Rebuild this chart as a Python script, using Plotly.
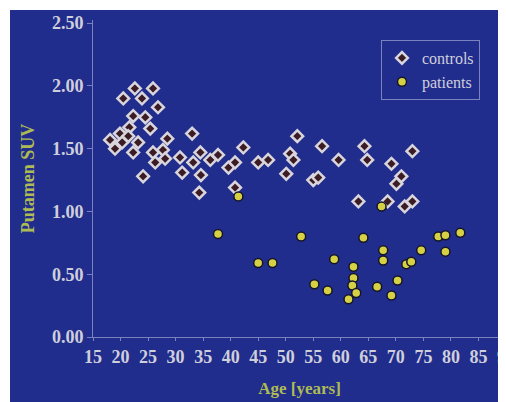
import plotly.graph_objects as go

# Controls (age, putamen SUV)
controls_age = [22.6, 25.9, 20.5, 23.9, 26.8, 22.3, 24.5, 21.6, 25.4, 33.0, 19.9, 21.4, 18.1,
                28.5, 23.2, 20.3, 19.0, 22.3, 25.9, 27.7, 30.8, 26.3, 28.1, 33.2, 34.5, 24.1,
                31.2, 34.6, 34.3, 36.3, 37.7, 39.6, 40.8, 42.3, 45.0, 46.8, 50.8, 51.4, 52.1,
                56.6, 40.8, 50.1, 55.0, 55.9, 59.6, 64.3, 64.8, 69.2, 71.0, 70.1, 73.0, 63.2,
                68.5, 71.6, 73.0]
controls_suv = [1.98, 1.98, 1.90, 1.90, 1.83, 1.76, 1.75, 1.67, 1.66, 1.62, 1.62, 1.60, 1.57,
                1.58, 1.55, 1.55, 1.50, 1.47, 1.47, 1.49, 1.43, 1.39, 1.42, 1.39, 1.47, 1.28,
                1.31, 1.29, 1.15, 1.41, 1.45, 1.35, 1.39, 1.51, 1.39, 1.41, 1.46, 1.41, 1.60,
                1.52, 1.19, 1.30, 1.25, 1.27, 1.41, 1.52, 1.41, 1.38, 1.28, 1.22, 1.48, 1.08,
                1.08, 1.04, 1.08]

# Patients (age, putamen SUV)
patients_age = [37.7, 41.4, 45.0, 47.6, 52.8, 55.2, 57.6, 58.8, 62.3, 62.3, 62.1, 62.8, 61.4,
                64.1, 67.7, 67.7, 66.6, 69.2, 70.3, 71.9, 72.8, 74.6, 77.7, 79.0, 79.0, 81.7,
                67.4]
patients_suv = [0.82, 1.12, 0.59, 0.59, 0.80, 0.42, 0.37, 0.62, 0.56, 0.47, 0.41, 0.35, 0.30,
                0.79, 0.69, 0.61, 0.40, 0.33, 0.45, 0.58, 0.60, 0.69, 0.80, 0.81, 0.68, 0.83,
                1.04]

x_ticks = list(range(15, 95, 5))
y_ticks = [0.0, 0.5, 1.0, 1.5, 2.0, 2.5]

BLUE = "#212d8c"
AXIS = "#7c82bd"
TEXT = "#cfcfdc"
TITLE = "#aebb55"
SERIF = "Liberation Serif, Times New Roman, serif"

fig = go.Figure()
fig.add_trace(go.Scatter(
    x=controls_age, y=controls_suv, mode="markers", name="controls",
    marker=dict(symbol="diamond", size=9, color="#3b1c24",
                line=dict(color="#d9d5dd", width=2.5)),
))
fig.add_trace(go.Scatter(
    x=patients_age, y=patients_suv, mode="markers", name="patients",
    marker=dict(symbol="circle", size=9, color="#d6d144",
                line=dict(color="#15152a", width=1.5)),
))

# The page body adds an 8px offset; figure coordinates below are page - 8.
OFF = 8
W, H = 506 - OFF, 402 - OFF
L, R, T, B = 93 - OFF, 0, 20 - OFF, 402 - 337
pw, ph = W - L - R, H - T - B

def px_x(p):  # page pixel -> paper x
    return (p - OFF - L) / pw

def px_y(p):  # page pixel -> paper y
    return (H - B - (p - OFF)) / ph

fig.add_shape(type="rect", xref="paper", yref="paper",
              x0=px_x(10), x1=px_x(520), y0=px_y(10), y1=px_y(420),
              fillcolor=BLUE, line=dict(width=0), layer="below")

fig.update_layout(
    template="none",
    width=W, height=H,
    margin=dict(l=L, r=R, t=T, b=B, pad=0),
    paper_bgcolor="white",
    plot_bgcolor=BLUE,
    font=dict(family=SERIF, color=TEXT, size=17),
    showlegend=True,
    legend=dict(
        x=px_x(480), y=px_y(40), xanchor="right", yanchor="top",
        bgcolor="rgba(0,0,0,0)", bordercolor=AXIS, borderwidth=1,
        font=dict(family=SERIF, size=16, color=TEXT),
        itemwidth=30, tracegroupgap=0,
    ),
    xaxis=dict(
        range=[15, 90], tickvals=x_ticks, ticktext=[str(v) for v in x_ticks],
        showgrid=False, zeroline=False, showline=True, linecolor=AXIS, linewidth=1,
        ticks="outside", ticklen=3, tickcolor=AXIS, automargin=False,
        ticklabeloverflow="allow",
        tickfont=dict(family=SERIF, size=18, color=TEXT, weight="bold"),
        title=dict(text="<b>Age [years]</b>", font=dict(family=SERIF, size=17, color=TITLE),
                   standoff=16),
    ),
    yaxis=dict(
        range=[0, 2.525], tickvals=y_ticks, tickformat=".2f",
        showgrid=False, zeroline=False, showline=True, linecolor=AXIS, linewidth=1,
        ticks="outside", ticklen=5, tickcolor=AXIS, automargin=False,
        tickfont=dict(family=SERIF, size=18, color=TEXT, weight="bold"),
        title=dict(text="<b>Putamen SUV</b>", font=dict(family=SERIF, size=18, color=TITLE),
                   standoff=12),
    ),
)

fig.write_html("out.html")
